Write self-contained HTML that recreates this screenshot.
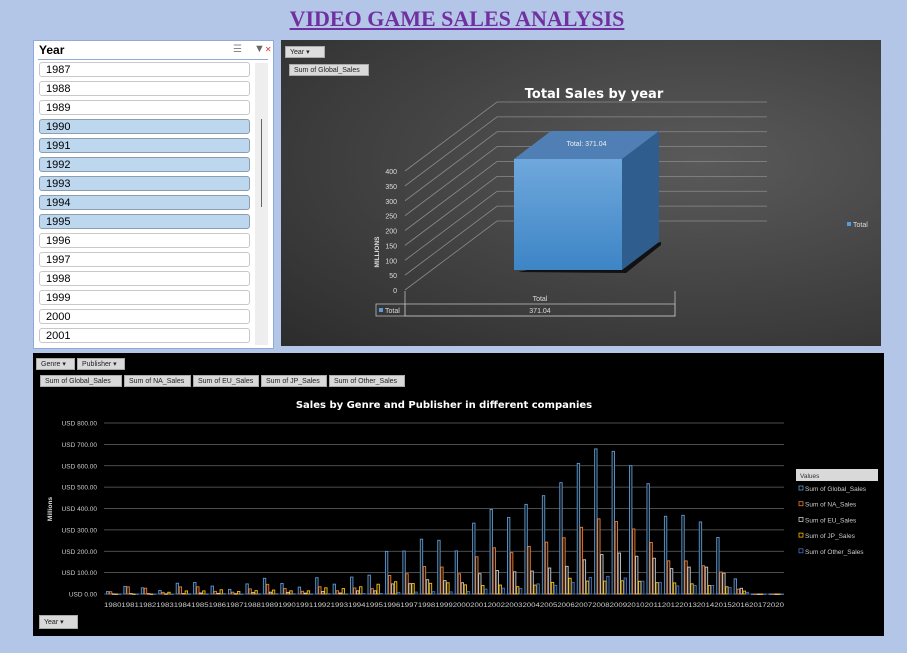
<!DOCTYPE html>
<html><head><meta charset="utf-8"><style>
body{margin:0;width:907px;height:653px;background:#b4c6e7;font-family:"Liberation Sans",sans-serif;position:relative;overflow:hidden}
.abs{position:absolute}
.slicer{left:33px;top:40px;width:239px;height:307px;background:#fff;border:1px solid #8eaadb}
.item{position:absolute;left:5px;width:211px;height:15px;border:1px solid #c8c8c8;border-radius:3px;font-size:11px;line-height:15px;padding-left:6px;box-sizing:border-box;color:#000}
.item.sel{background:#bdd7ee;border-color:#8c9db0}
.btn{position:absolute;background:#d9d9d9;font-size:7px;color:#222;line-height:12px;height:12px;border:1px solid #aaa;box-sizing:border-box;padding-left:4px}
</style></head><body>
<div class="abs" style="left:0;width:914px;top:6px;text-align:center;font-family:'Liberation Serif',serif;font-weight:bold;font-size:22px;color:#7030a0;text-decoration:underline">VIDEO GAME SALES ANALYSIS</div>

<div class="abs slicer">
 <div class="abs" style="left:5px;top:2px;font-size:12px;font-weight:bold">Year</div>
 <div class="abs" style="left:199px;top:3px;font-size:10px;color:#888">☰</div>
 <div class="abs" style="left:220px;top:2px;font-size:11px;color:#666">▼<span style="color:#d33;font-size:8px">✕</span></div>
 <div class="abs" style="left:4px;top:18px;width:230px;height:1px;background:#8eaadb"></div>
 <div class="abs" style="left:221px;top:22px;width:13px;height:282px;background:#eee"></div>
 <div class="abs" style="left:227px;top:78px;width:1px;height:88px;background:#666"></div>
 <div id="items"></div>
</div>

<div class="abs" style="left:281px;top:40px;width:600px;height:306px;background:radial-gradient(ellipse at 70% 40%,#5a5a5a,#3a3a3a 70%,#2c2c2c)">
 <div class="btn" style="left:4px;top:6px;width:40px;background:#ddd">Year ▾</div>
 <div class="btn" style="left:8px;top:24px;width:80px">Sum of Global_Sales</div>
 <svg id="top" class="abs" style="left:0;top:0" width="600" height="306"></svg>
</div>

<div class="abs" style="left:33px;top:353px;width:851px;height:283px;background:#000">
 <div class="btn" style="left:3px;top:5px;width:39px">Genre ▾</div>
 <div class="btn" style="left:44px;top:5px;width:48px">Publisher ▾</div>
 <div class="btn" style="left:7px;top:22px;width:82px">Sum of Global_Sales</div>
 <div class="btn" style="left:91px;top:22px;width:67px">Sum of NA_Sales</div>
 <div class="btn" style="left:160px;top:22px;width:66px">Sum of EU_Sales</div>
 <div class="btn" style="left:228px;top:22px;width:66px">Sum of JP_Sales</div>
 <div class="btn" style="left:296px;top:22px;width:76px">Sum of Other_Sales</div>
 <div class="btn" style="left:6px;top:262px;width:39px;height:14px;line-height:14px">Year ▾</div>
</div>
<svg id="bot" class="abs" style="left:0;top:0" width="907" height="653"></svg>

<script>
const slicerYears=['1987','1988','1989','1990','1991','1992','1993','1994','1995','1996','1997','1998','1999','2000','2001'];
const slicerSelected=['1990','1991','1992','1993','1994','1995'];
const items=document.getElementById('items');
slicerYears.forEach((y,i)=>{const d=document.createElement('div');d.className='item'+(slicerSelected.includes(y)?' sel':'');d.style.top=(21+i*19)+'px';d.textContent=y;


items.appendChild(d);});

const NS='http://www.w3.org/2000/svg';
function mk(p,t,a,txt){const e=document.createElementNS(NS,t);for(const k in a)e.setAttribute(k,a[k]);if(txt!==undefined)e.textContent=txt;p.appendChild(e);return e;}

// top chart
const topCats=['Total'];
const topVals=[371.04];
const topTicks=[0,50,100,150,200,250,300,350,400];
const T=document.getElementById('top');
const ty=v=>250-v*119/400;
mk(T,'text',{x:313,y:58,'text-anchor':'middle','font-size':13,'font-weight':'bold',fill:'#fff','font-family':'DejaVu Sans, sans-serif',},'Total Sales by year');
topTicks.forEach(t=>{const y=ty(t);
 mk(T,'polyline',{points:`124,${y} 216,${y-69} 486,${y-69}`,fill:'none',stroke:'#8a8a8a','stroke-width':0.8,});
 mk(T,'text',{x:116,y:y+3,'text-anchor':'end','font-size':7,fill:'#ddd',},t);});
mk(T,'text',{x:0,y:0,transform:'translate(98,212) rotate(-90)','text-anchor':'middle','font-size':6.5,'font-weight':'bold',fill:'#ddd',},'MILLIONS');
topVals.forEach(v=>{const bx=233,bw=108,by=230,h=v*111/371.04,top=by-h,dx=37,dy=28;
 mk(T,'polygon',{points:`${bx+4},${by+2} ${bx+bw+dx+2},${by-dy} ${bx+bw+dx+2},${by-dy+3} ${bx+bw+4},${by+3}`,fill:'#111',});
 mk(T,'polygon',{points:`${bx+bw},${top} ${bx+bw+dx},${top-dy} ${bx+bw+dx},${by-dy} ${bx+bw},${by}`,fill:'#2f5e8e',});
 mk(T,'polygon',{points:`${bx},${top} ${bx+dx},${top-dy} ${bx+bw+dx},${top-dy} ${bx+bw},${top}`,fill:'#4f7fb5',});
 const g=mk(T,'defs',{});g.innerHTML='<linearGradient id="fg" x1="0" y1="0" x2="0" y2="1"><stop offset="0" stop-color="#6fa8dc"/><stop offset="1" stop-color="#3d85c6"/></linearGradient>';
 mk(T,'rect',{x:bx,y:top,width:bw,height:h,fill:'url(#fg)',});
 mk(T,'text',{x:bx+dx/2+bw/2,y:top-13,'text-anchor':'middle','font-size':7,fill:'#eee',},'Total:  '+v.toFixed(2));});
mk(T,'polyline',{points:'124,251 124,276 394,276 394,251',fill:'none',stroke:'#bbb','stroke-width':0.8});
mk(T,'rect',{x:95,y:264,width:299,height:12,fill:'none',stroke:'#bbb','stroke-width':0.8,});
mk(T,'line',{x1:124,y1:264,x2:124,y2:276,stroke:'#bbb','stroke-width':0.8});
mk(T,'text',{x:259,y:261,'text-anchor':'middle','font-size':7,fill:'#ddd'},topCats[0]);
mk(T,'text',{x:259,y:273,'text-anchor':'middle','font-size':7,fill:'#ddd'},topVals[0].toFixed(2));
mk(T,'rect',{x:98,y:268,width:4,height:4,fill:'#5b9bd5'});
mk(T,'text',{x:104,y:273,'font-size':7,fill:'#ddd'},'Total');
mk(T,'rect',{x:566,y:182,width:4,height:4,fill:'#5b9bd5',});
mk(T,'text',{x:572,y:187,'font-size':7,fill:'#ddd'},'Total');

// bottom chart
const years=['1980','1981','1982','1983','1984','1985','1986','1987','1988','1989','1990','1991','1992','1993','1994','1995','1996','1997','1998','1999','2000','2001','2002','2003','2004','2005','2006','2007','2008','2009','2010','2011','2012','2013','2014','2015','2016','2017','2020'];
const globalSales=[11.38,35.77,28.86,16.79,50.36,53.94,37.07,21.74,47.22,73.45,49.39,32.23,76.16,45.98,79.17,88.11,199.15,200.98,256.47,251.27,201.56,331.47,395.52,357.85,419.31,459.94,521.04,611.13,678.9,667.3,600.45,515.99,363.54,368.11,337.05,264.44,70.93,0.05,0.29];
const naSales=[10.59,33.4,26.92,7.76,33.28,33.73,12.5,8.46,23.87,45.15,25.46,12.76,33.87,15.12,28.15,24.82,86.76,94.75,128.36,126.06,94.49,173.98,216.19,193.59,222.59,242.61,263.12,312.05,351.44,338.85,304.24,241.21,154.96,154.77,131.97,102.82,22.66,0,0.27];
const euSales=[0.67,1.96,1.65,0.8,2.1,4.74,2.84,1.41,6.59,8.44,7.63,3.95,11.71,4.65,14.88,14.9,47.26,48.32,66.9,62.67,52.75,94.89,109.74,103.81,107.27,121.56,129.24,160.18,184.4,191.59,176.57,167.44,118.78,125.8,125.65,97.71,26.76,0,0];
const jpSales=[0,0,0,8.1,14.27,14.56,19.81,11.63,15.76,18.36,14.88,14.78,28.91,25.33,33.99,45.75,57.44,48.87,50.04,52.34,42.77,39.86,41.76,34.2,41.65,54.28,73.73,60.29,60.26,61.89,59.49,53.04,51.8,47.59,39.46,33.72,13.7,0.05,0];
const otherSales=[0.12,0.32,0.31,0.14,0.7,0.92,1.93,0.2,0.99,1.5,1.4,0.74,1.65,0.89,2.2,2.64,7.69,9.13,11.03,10.05,11.62,22.76,27.28,26.01,47.37,40.58,54.43,77.58,82.39,74.77,59.9,54.39,37.82,39.82,40.02,30.01,7.75,0,0.02];
const yTicks=[0,100,200,300,400,500,600,700,800];
const seriesNames=['Sum of Global_Sales','Sum of NA_Sales','Sum of EU_Sales','Sum of JP_Sales','Sum of Other_Sales'];
const seriesData=[globalSales,naSales,euSales,jpSales,otherSales];
const colors=['#5b9bd5','#ed7d31','#c9c9c9','#ffc000','#4472c4'];
const B=document.getElementById('bot');
const X0=104,X1=784,Y0=594,Y1=423;
const yS=v=>Y0-(v/800)*(Y0-Y1);
const step=(X1-X0)/years.length;
const xS=i=>X0+i*step;
mk(B,'text',{x:444,y:408,'text-anchor':'middle','font-size':10,'font-weight':'bold',fill:'#fff','font-family':'DejaVu Sans, sans-serif',},'Sales by Genre and Publisher in different companies');
yTicks.forEach(t=>{const y=yS(t);
 mk(B,'line',{x1:X0,y1:y,x2:X1,y2:y,stroke:'#666','stroke-width':0.8,});
 mk(B,'text',{x:97,y:y+2.5,'text-anchor':'end','font-size':6.5,fill:'#ccc',},'USD '+t.toFixed(2));});
mk(B,'text',{x:0,y:0,transform:'translate(52,509) rotate(-90)','text-anchor':'middle','font-size':6.5,'font-weight':'bold',fill:'#ddd',},'Millions');
const bw=2.4;
years.forEach((yr,i)=>{
 seriesData.forEach((s,k)=>{const v=s[i];const x=xS(i)+step*0.14+k*(bw+0.6);const y=yS(v);
  const r=mk(B,'rect',{x:x,y:y,width:bw,height:Math.max(0.5,Y0-y),fill:'#111',stroke:colors[k],'stroke-width':0.9});
  
  });
 const t=mk(B,'text',{x:xS(i)+step/2,y:607,'text-anchor':'middle','font-size':6.5,fill:'#ccc',textLength:step,lengthAdjust:'spacingAndGlyphs'},yr);
 
 
});
mk(B,'rect',{x:796,y:469,width:82,height:12,fill:'#d9d9d9',});
mk(B,'text',{x:800,y:478,'font-size':6.5,fill:'#333'},'Values');
seriesNames.forEach((n,k)=>{const y=490+k*15.7;
 const r=mk(B,'rect',{x:799,y:y-4,width:4,height:4,fill:'none',stroke:colors[k],'stroke-width':0.8});
 
 
 const t=mk(B,'text',{x:805,y:y+1,'font-size':6.5,fill:'#ccc'},n);
 
 });
</script>
</body></html>
